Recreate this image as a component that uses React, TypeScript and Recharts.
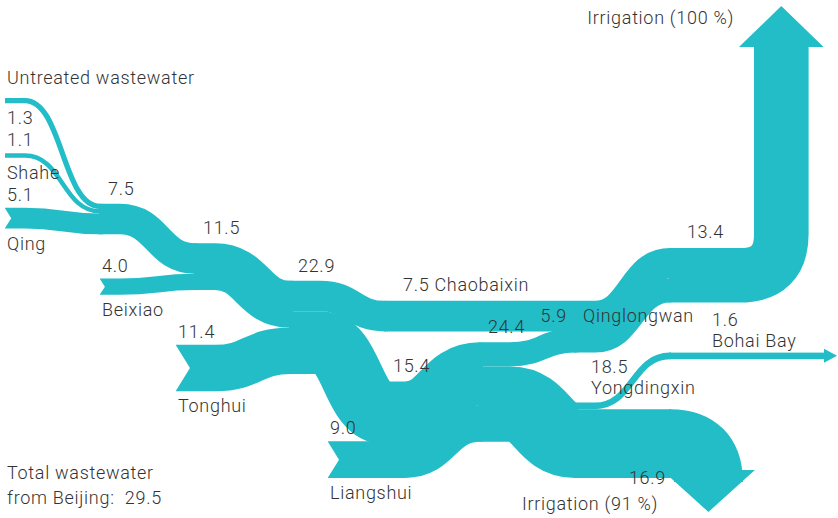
import { Sankey } from 'recharts';

// nodes: sources, confluences (j*), river branches and final destinations
const nodeNames = [
  'Untreated wastewater', 'Shahe', 'Qing', 'Beixiao', 'Tonghui', 'Liangshui',
  'j1', 'j2', 'j3', 'Chaobaixin', 'j4', 'j5', 'Qinglongwan', 'Yongdingxin',
  'Irrigation (100 %)', 'Bohai Bay', 'Irrigation (91 %)',
];
const linkSources = [0, 1, 2, 6, 3, 7, 4, 8, 8, 10, 5, 11, 11, 9, 12, 13, 13];
const linkTargets = [6, 6, 6, 7, 7, 8, 8, 9, 10, 11, 11, 12, 13, 14, 14, 15, 16];
const linkValues = [1.3, 1.1, 5.1, 7.5, 4.0, 11.5, 11.4, 7.5, 15.4, 15.4, 9.0, 5.9, 18.5, 7.5, 5.9, 1.6, 16.9];
const totalWastewater = 29.5;

const data = {
  nodes: nodeNames.map((name) => ({ name })),
  links: linkSources.map((s, i) => ({ source: s, target: linkTargets[i], value: linkValues[i] })),
};

const W = 838;
const H = 518;
const NODE_W = 2;
const CURVE = 75;
const TEAL = '#22bdc7';
const INK = '#333333';
const FONT = 'Roboto, "Liberation Sans", sans-serif';
const FS = 18;

const fmt = (v: number) => (Math.round(v * 10) / 10).toFixed(1);

function Label({ x, y, anchor = 'start', children }: any) {
  return (
    <text
      x={x} y={y} textAnchor={anchor} fontFamily={FONT} fontSize={FS} fontWeight={300}
      letterSpacing={0.7} fill={INK}
    >
      {children}
    </text>
  );
}

function renderLink(props: any) {
  const { sourceX, targetX, sourceY, targetY, linkWidth, payload } = props;
  const src = payload.source;
  const tgt = payload.target;
  const h = Math.max(linkWidth, 1.5);
  const fromSource = src.depth === 0;
  const toSink = !tgt.targetNodes || tgt.targetNodes.length === 0;
  const branching = src.targetNodes && src.targetNodes.length > 1 && !toSink;
  let x0 = sourceX;
  let c0: number;
  let w: number;
  if (fromSource) {
    // tributaries enter the drawing a little before the confluence they feed
    const steps = tgt.depth - src.depth;
    const colW = (targetX - (sourceX - NODE_W)) / steps;
    const lead = steps === 1 ? 1 : 1 + 0.2 * (steps - 2);
    x0 = targetX - colW * lead;
    w = Math.min(CURVE, targetX - x0 - 20);
    c0 = targetX - w;
  } else if (branching) {
    w = Math.min(CURVE, targetX - sourceX - 28);
    c0 = sourceX + 28;
  } else {
    w = Math.min(CURVE, targetX - sourceX);
    c0 = targetX - w;
  }
  const m = c0 + w / 2;
  const d = `M${x0},${sourceY} L${c0},${sourceY} C${m},${sourceY} ${m},${targetY} ${c0 + w},${targetY} L${targetX + 1},${targetY}`;
  const top = sourceY - h / 2;
  const bottom = sourceY + h / 2;
  const notch = h * 0.3;
  const nameAbove = src.name === 'Untreated wastewater';
  return (
    <g>
      <path d={d} fill="none" stroke={TEAL} strokeWidth={h} />
      {fromSource && h > 6 && (
        <polygon points={`${x0 - 1},${top - 1} ${x0 + notch},${sourceY} ${x0 - 1},${bottom + 1}`} fill="#fff" />
      )}
      {fromSource && (
        nameAbove ? (
          <g>
            <Label x={x0 + 2} y={top - 14}>{src.name}</Label>
            <Label x={x0 + 2} y={bottom + 21}>{fmt(src.value)}</Label>
          </g>
        ) : (
          <g>
            <Label x={x0 + 2} y={top - 7}>{fmt(src.value)}</Label>
            <Label x={x0 + 2} y={bottom + 21}>{src.name}</Label>
          </g>
        )
      )}
    </g>
  );
}

function renderNode(props: any) {
  const { x, y, width, height, payload } = props;
  const name: string = payload.name;
  const value = fmt(payload.value);
  if (payload.depth === 0) return <g />;
  const cy = y + height / 2;
  const half = height / 2;
  if (name === 'Irrigation (100 %)') {
    const R = half + 14;
    const run = 70;
    const cx = x + run + R;
    const baseY = 46;
    return (
      <g>
        <path
          d={`M${x - 1},${cy} L${x + run},${cy} Q${cx},${cy} ${cx},${cy - R} L${cx},${baseY}`}
          fill="none" stroke={TEAL} strokeWidth={height}
        />
        <polygon points={`${cx - half - 15},${baseY + 1} ${cx + half + 15},${baseY + 1} ${cx},${baseY - 40}`} fill={TEAL} />
        <Label x={cx - half - 20} y={24} anchor="end">{name}</Label>
        <Label x={cx - half - 30} y={y - 10} anchor="end">{value}</Label>
      </g>
    );
  }
  if (name === 'Irrigation (91 %)') {
    const R = half + 4;
    const cx = x + R;
    const tip = Math.min(Math.max(cy + R + 40, H - 22), H - 6);
    const baseY = tip - 42;
    return (
      <g>
        <path
          d={`M${x - 1},${cy} L${x},${cy} Q${cx},${cy} ${cx},${cy + R} L${cx},${baseY + 1}`}
          fill="none" stroke={TEAL} strokeWidth={height}
        />
        <polygon points={`${cx - half - 12},${baseY} ${cx + half + 12},${baseY} ${cx},${tip}`} fill={TEAL} />
        <Label x={cx - half - 16} y={tip - 2} anchor="end">{name}</Label>
        <Label x={cx - half - 8} y={tip - 28} anchor="end">{value}</Label>
      </g>
    );
  }
  if (name === 'Bohai Bay') {
    const h = Math.max(height, 2);
    return (
      <g>
        <rect x={x - 1} y={cy - h / 2} width={W - 12 - x} height={h} fill={TEAL} />
        <polygon points={`${W - 14},${cy - 7} ${W - 1},${cy} ${W - 14},${cy + 7}`} fill={TEAL} />
        <Label x={x + 42} y={cy - 30}>{value}</Label>
        <Label x={x + 42} y={cy - 9}>{name}</Label>
      </g>
    );
  }
  const rect = <rect x={x - 1} y={y} width={width + 2} height={height} fill={TEAL} />;
  if (name.startsWith('j')) {
    return (
      <g>
        {rect}
        <Label x={x + 8} y={y - 9}>{value}</Label>
      </g>
    );
  }
  if (name === 'Chaobaixin') {
    return (
      <g>
        {rect}
        <Label x={x + 18} y={y - 10}>{`${value} ${name}`}</Label>
      </g>
    );
  }
  if (name === 'Qinglongwan') {
    return (
      <g>
        {rect}
        <Label x={x - 8} y={y - 7} anchor="end">{value}</Label>
        <Label x={x + 8} y={y - 7}>{name}</Label>
      </g>
    );
  }
  return (
    <g>
      {rect}
      <Label x={x + 16} y={y - 30}>{value}</Label>
      <Label x={x + 16} y={y - 9}>{name}</Label>
    </g>
  );
}

export default function App() {
  return (
    <div style={{ position: 'absolute', left: 0, top: 0, width: W, height: H, background: '#fff' }}>
      <Sankey
        width={W}
        height={H}
        data={data}
        nodeWidth={NODE_W}
        nodePadding={50}
        sort={false}
        iterations={32}
        margin={{ top: 98, right: 166, bottom: 40, left: 5 }}
        node={renderNode}
        link={renderLink}
      />
      <div
        style={{
          position: 'absolute', left: 7, top: 460, fontFamily: FONT, fontWeight: 300,
          fontSize: FS, letterSpacing: 0.7, lineHeight: '25px', color: INK,
        }}
      >
        Total wastewater
        <br />
        from Beijing:&nbsp; {totalWastewater.toFixed(1)}
      </div>
    </div>
  );
}
